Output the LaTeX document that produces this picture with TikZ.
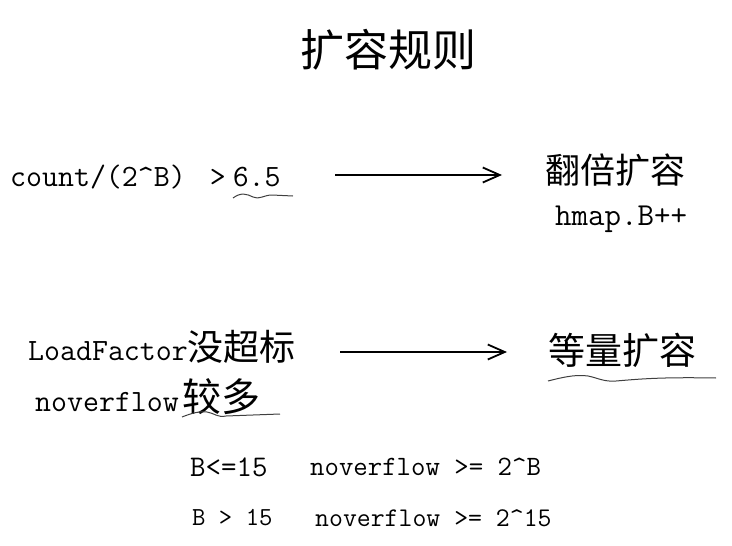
\documentclass[tikz,border=0pt]{standalone}
\usepackage{fontspec}
\newfontfamily\cjk{Noto Sans CJK SC}
\usetikzlibrary{arrows.meta}
\tikzset{
  txt/.style={inner sep=0pt, anchor=west, font=\ttfamily\fontsize{#1}{#1}\selectfont},
  txt/.default=31,
  zh/.style={inner sep=0pt, font=\cjk\fontsize{#1}{#1}\selectfont},
  arr/.style={line width=1.8pt, -{Straight Barb[length=17pt,width=15pt,line width=1.8pt]}},
  wave/.style={line width=1pt, draw=black!75}
}
\begin{document}
\begin{tikzpicture}[x=1pt,y=-1pt]
\useasboundingbox (0,0) rectangle (732,546);
% title
\node[zh=44] (title) at (388,50) {扩容规则};
% first rule
\node[txt] (cond) at (10,177) {count/(2\textasciicircum B)\hspace{24pt}>\hspace{7pt}6.5};
\node[zh=35] (dbl) at (615,170) {翻倍扩容};
\node[txt=32] (hmap) at (555,219) {hmap.B++};
\coordinate (a1s) at (335,175);
\coordinate (a1e) at (502,175);
\draw[arr] (a1s) -- (a1e);
\draw[wave] (233,198) .. controls (241,192) and (247,194) .. (253,197)
  .. controls (259,200) and (264,195) .. (272,195) -- (293,196);
% second rule
\node[txt] (lf) at (28,347) {LoadFactor{\cjk\fontsize{36}{36}\selectfont 没超标}};
\node[txt] (ovf) at (35,397) {noverflow\hspace{4pt}{\cjk\fontsize{39}{39}\selectfont 较多}};
\node[zh=37] (equ) at (622,350) {等量扩容};
\coordinate (a2s) at (340,352);
\coordinate (a2e) at (507,352);
\draw[arr] (a2s) -- (a2e);
\draw[wave] (182,417) .. controls (192,413) and (200,411) .. (207,412)
  .. controls (214,413) and (218,418) .. (226,416) -- (280,414);
\draw[wave] (548,381) .. controls (560,378) and (575,374) .. (588,376)
  .. controls (598,378) and (604,382) .. (616,381)
  .. controls (640,379) and (660,377) .. (716,378);
% thresholds
\node[txt=30] (b1) at (190,467) {B<=15};
\node[txt=28] (n1) at (310,467) {noverflow >= 2\textasciicircum B};
\node[txt=26] (b2) at (192,518) {B > 15};
\node[txt=27] (n2) at (315,518) {noverflow >= 2\textasciicircum 15};
\end{tikzpicture}
\end{document}
